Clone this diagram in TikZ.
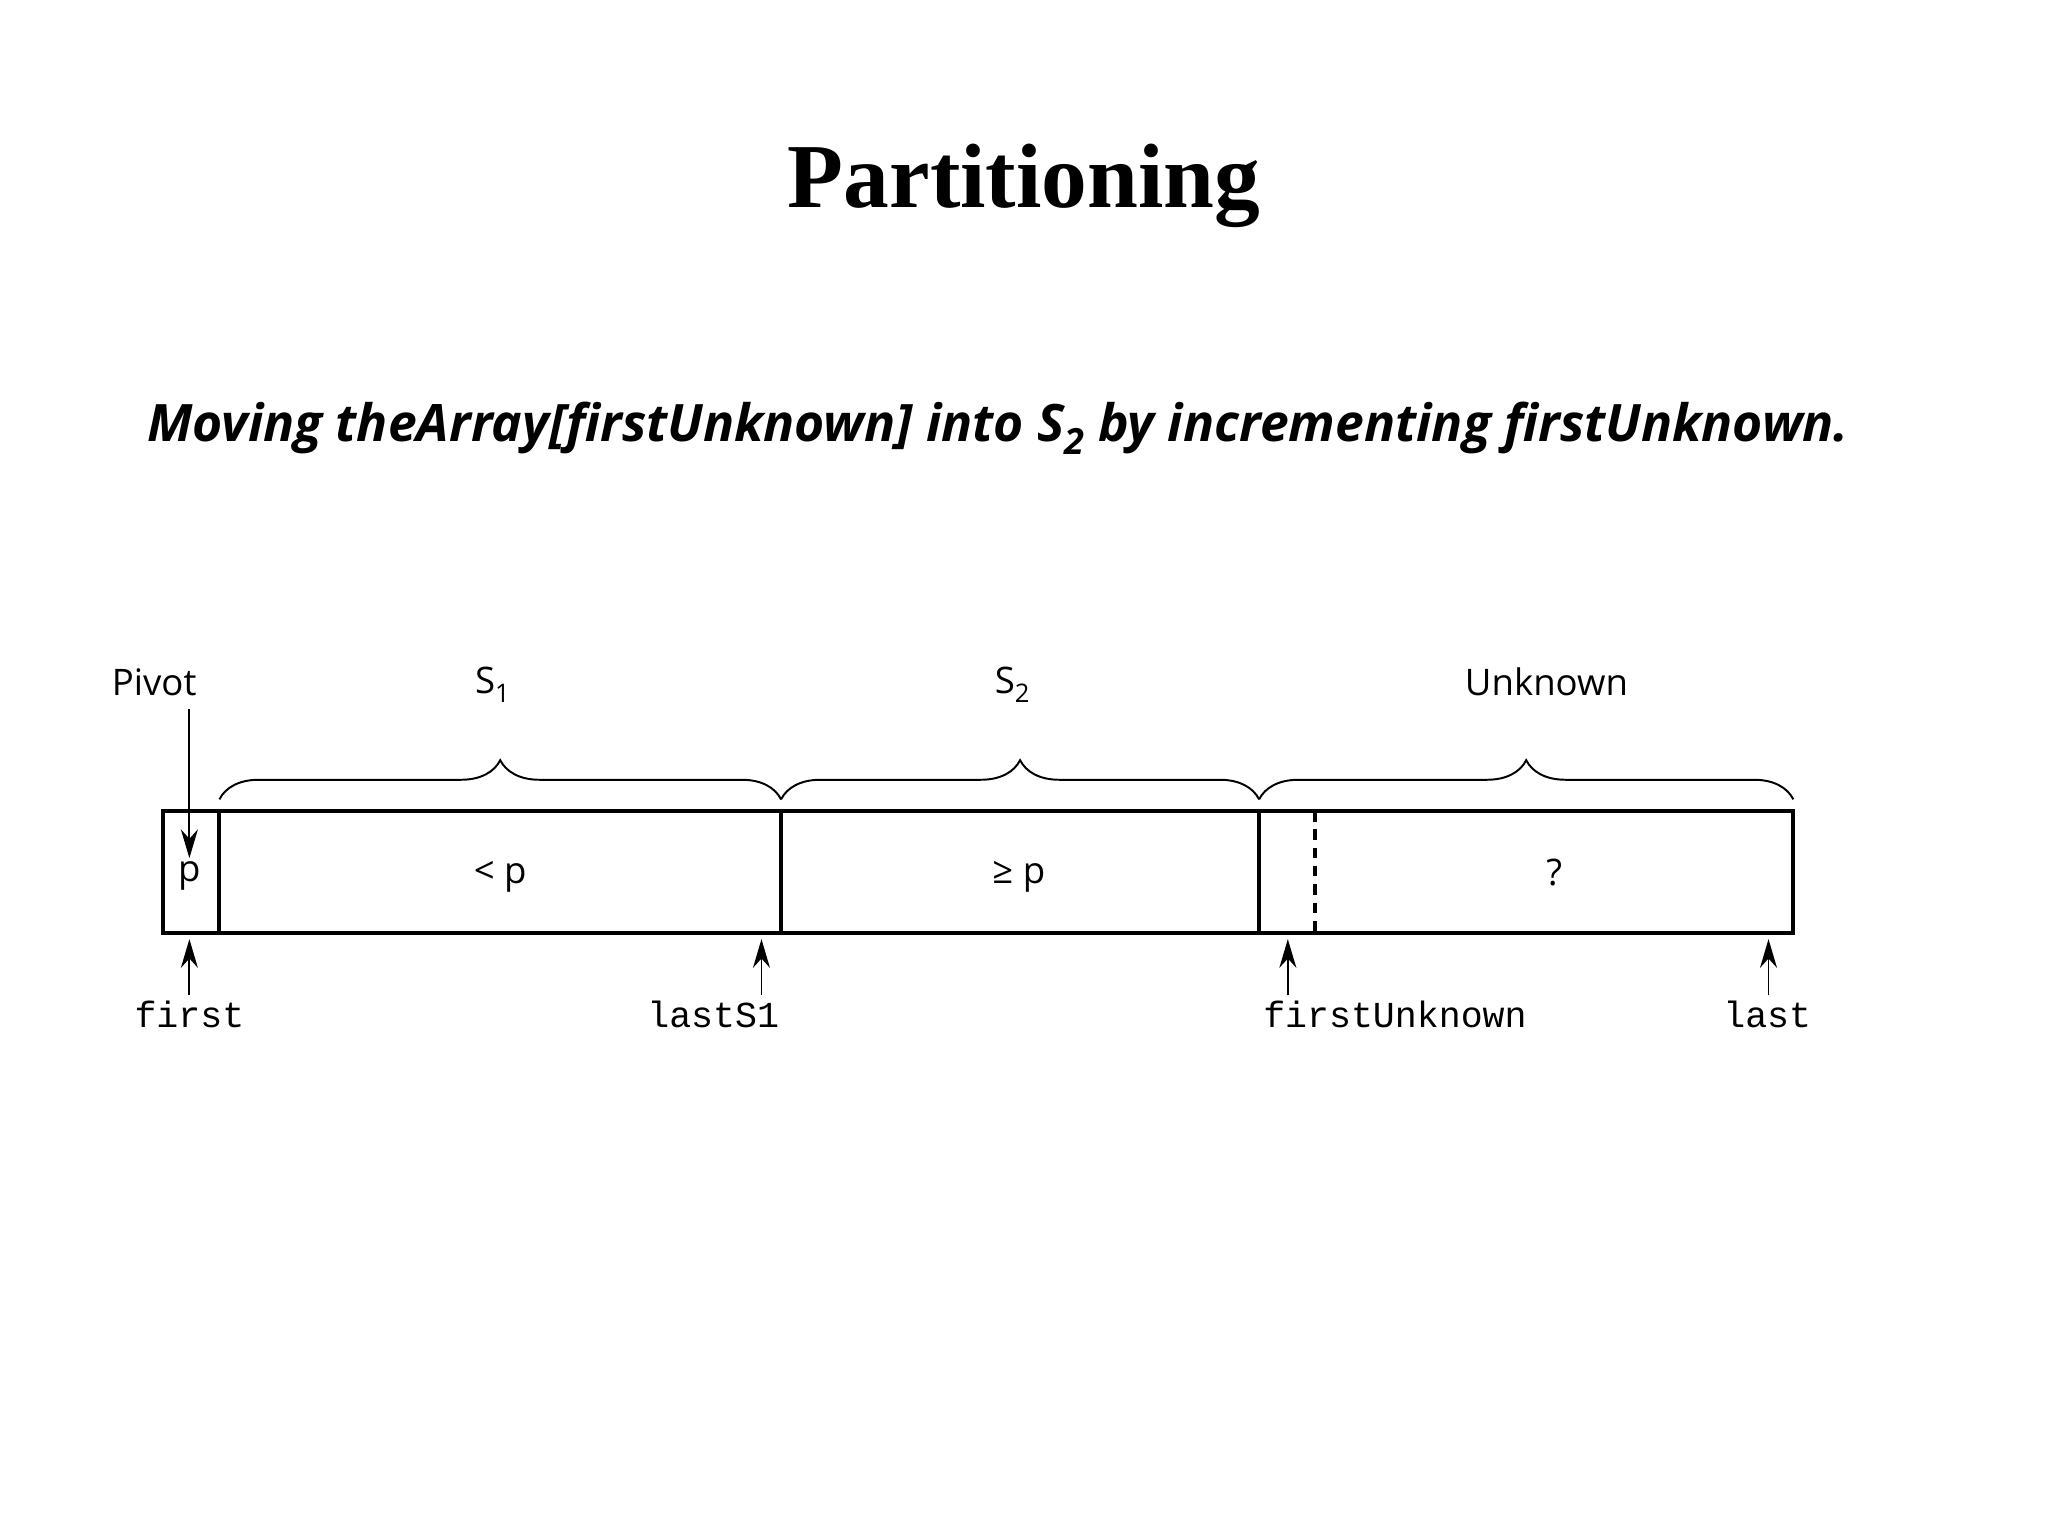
\documentclass[tikz,border=0pt]{standalone}
\usepackage{fontspec}
\setmainfont{Liberation Serif}
\newfontfamily\osans{Open Sans}
\setmonofont{Liberation Mono}
\usetikzlibrary{decorations.pathreplacing,arrows.meta}
\newcommand{\mysub}[1]{\raisebox{-0.25em}{\scalebox{0.7}{#1}}}
\begin{document}
\begin{tikzpicture}[x=1pt,y=-1pt,
  lab/.style={font=\osans\fontsize{28}{32}\selectfont},
  mono/.style={font=\ttfamily\fontsize{28}{32}\selectfont},
  ptr/.style={-{Stealth[length=22pt,width=13pt]},line width=1.5pt},
  br/.style={decorate,decoration={brace,amplitude=30pt},line width=1.5pt}]
\useasboundingbox (0,0) rectangle (1568,1176);
\node[font=\bfseries\fontsize{70}{80}\selectfont] (title) at (784,142) {Partitioning};
\node[font=\osans\bfseries\itshape\fontsize{39.5}{44}\selectfont] (sub) at (764,328) {Moving theArray[firstUnknown] into S\mysub{2} by incrementing firstUnknown.};
\draw[line width=3pt] (125,621) rectangle (1373,714);
\foreach \x in {168,598,964} \draw[line width=3pt] (\x,621) -- (\x,714);
\draw[line width=3pt,dash pattern=on 8pt off 6pt] (1007,621) -- (1007,714);
\node[lab] (p) at (145,671) {p};
\node[lab] (lp) at (383,671) {< p};
\node[lab] (gp) at (780,671) {≥ p};
\node[lab] (q) at (1190,668) {?};
\draw[br] (168,612) -- (598,612);
\draw[br] (598,612) -- (964,612);
\draw[br] (964,612) -- (1373,612);
\node[lab] (s1) at (377,524) {S\mysub{1}};
\node[lab] (s2) at (775,524) {S\mysub{2}};
\node[lab] (unk) at (1184,522) {Unknown};
\node[lab] (piv) at (118,522) {Pivot};
\coordinate (pa) at (145,543);
\coordinate (pb) at (145,657);
\draw[ptr] (pa) -- (pb);
\node[mono] (first) at (145,777) {first};
\node[mono] (lasts) at (546,777) {lastS1};
\node[mono] (fu) at (1068,777) {firstUnknown};
\node[mono] (last) at (1353,777) {last};
\foreach \x/\n in {145/a,583/b,986/c,1354/d}{
  \coordinate (t\n) at (\x,762); \coordinate (h\n) at (\x,719);
  \draw[ptr] (t\n) -- (h\n);}
\end{tikzpicture}
\end{document}
